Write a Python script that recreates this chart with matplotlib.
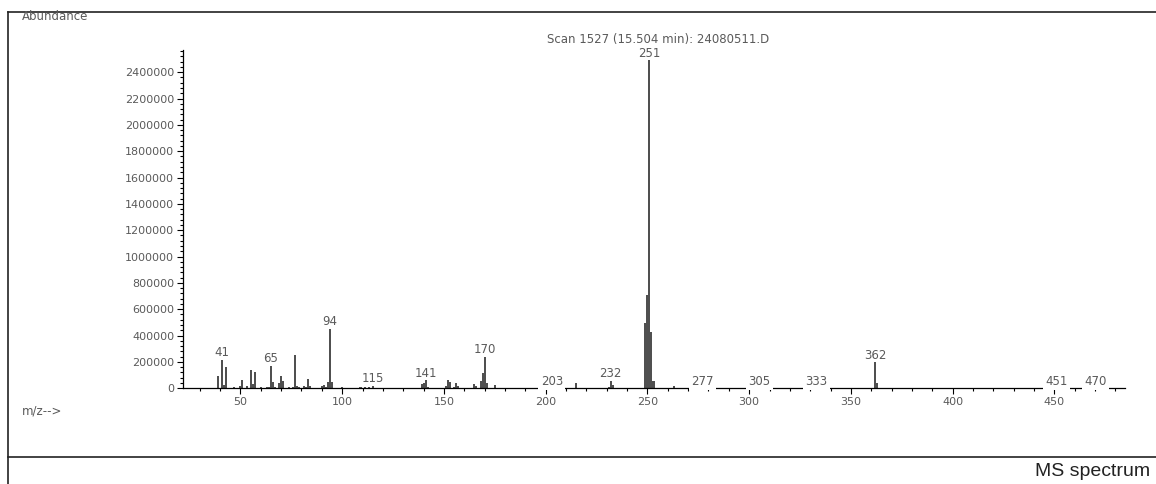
import matplotlib.pyplot as plt
from matplotlib.ticker import MultipleLocator
from matplotlib.lines import Line2D

# m/z values and abundances
mz = [39, 41, 42, 43, 47, 50, 51, 53, 55, 56, 57, 60, 63, 64, 65, 66, 67, 69, 70, 71,
      74, 76, 77, 78, 79, 81, 82, 83, 84, 90, 91, 92, 93, 94, 95, 100, 107, 109, 111,
      113, 115, 128, 139, 140, 141, 142, 151, 152, 153, 155, 156, 157, 165, 166, 168,
      169, 170, 171, 175, 183, 185, 187, 203, 215, 231, 232, 233, 249, 250, 251, 252,
      253, 263, 277, 305, 333, 362, 363, 451, 470]
abundance = [90000, 213000, 25000, 160000, 8000, 15000, 60000, 20000, 140000, 35000,
             125000, 8000, 12000, 10000, 167000, 48000, 12000, 40000, 90000, 53000,
             8000, 10000, 250000, 15000, 10000, 15000, 12000, 70000, 20000, 20000,
             25000, 10000, 45000, 448000, 50000, 6000, 5000, 6000, 10000,
             12000, 15000, 5000, 33000, 40000, 60000, 12000, 15000, 60000, 45000, 8000,
             43000, 15000, 33000, 20000, 53000,
             113000, 240000, 40000, 23000, 3000, 4000, 3000, 2000, 43000, 10000, 58000,
             25000, 494000, 708000, 2490000, 430000,
             55000, 15000, 2000, 1500, 1500, 195000, 42000, 1000, 1000]
labelled = [41, 65, 94, 115, 141, 170, 203, 232, 251, 277, 305, 333, 362, 451, 470]

title = 'Scan 1527 (15.504 min): 24080511.D'
grey = '#5a5a5a'

fig = plt.figure(figsize=(11.56, 4.84), dpi=100)
ax = fig.add_axes([0.158, 0.198, 0.815, 0.699])

ax.bar(mz, abundance, width=1.0, color='#505050', linewidth=0)

for m in labelled:
    a = abundance[mz.index(m)]
    if a < 5000:
        # label sits on the baseline and blanks the axis behind it
        ax.annotate(str(m), (m, a), xytext=(0, 0), textcoords='offset points',
                    ha='center', va='bottom', fontsize=8.5, color=grey, zorder=5,
                    annotation_clip=False,
                    bbox=dict(boxstyle='square,pad=0.2', fc='white', ec='none'))
    else:
        ax.annotate(str(m), (m, a), xytext=(0, 0.5), textcoords='offset points',
                    ha='center', va='bottom', fontsize=8.5, color=grey, zorder=5,
                    annotation_clip=False)

ax.set_xlim(21.6, 484.6)
ax.set_ylim(0, 2570000)
ax.xaxis.set_major_locator(MultipleLocator(50))
ax.xaxis.set_minor_locator(MultipleLocator(10))
ax.yaxis.set_major_locator(MultipleLocator(200000))
ax.yaxis.set_minor_locator(MultipleLocator(40000))
ax.ticklabel_format(axis='y', style='plain')
ax.tick_params(axis='both', which='major', length=4, width=0.8, labelsize=8,
               labelcolor=grey, pad=2)
ax.tick_params(axis='both', which='minor', length=2, width=0.8)
for s in ['top', 'right']:
    ax.spines[s].set_visible(False)
for s in ['left', 'bottom']:
    ax.spines[s].set_linewidth(0.9)

fig.text(0.569, 1 - 40 / 484, title, ha='center', va='center', fontsize=8.5, color=grey)
fig.text(22 / 1156, 1 - 17 / 484, 'Abundance', ha='left', va='center',
         fontsize=8.5, color=grey)
fig.text(22 / 1156, 1 - 411 / 484, 'm/z-->', ha='left', va='center',
         fontsize=8.5, color=grey)
fig.text(1150 / 1156, 1 - 472 / 484, 'MS spectrum', ha='right', va='center',
         fontsize=14, color='#222222', family='Liberation Sans')

# outer frame lines
x0 = 8 / 1156
fig.add_artist(Line2D([x0, 1], [1 - 12 / 484, 1 - 12 / 484], color='#222222', lw=1.2))
fig.add_artist(Line2D([x0, x0], [0, 1 - 12 / 484], color='#222222', lw=1.2))
fig.add_artist(Line2D([x0, 1], [1 - 457 / 484, 1 - 457 / 484], color='#222222', lw=1.2))

fig.savefig('out.png', dpi=100)
